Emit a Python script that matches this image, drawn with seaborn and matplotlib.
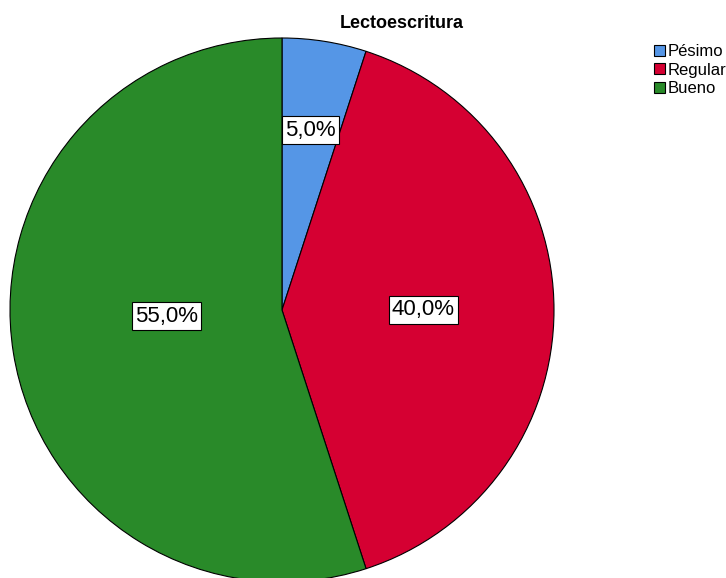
import matplotlib.pyplot as plt
import seaborn as sns
import numpy as np

categories = ["Pésimo", "Regular", "Bueno"]
percentages = [5.0, 40.0, 55.0]
colors = ["#5596E6", "#D50032", "#298A29"]

# label placement (fraction of radius, angular nudge in degrees)
label_dist = [0.67, 0.52, 0.424]
label_shift = [0, 0, -6]

sns.set_style("white")
plt.rcParams["font.family"] = ["Liberation Sans", "DejaVu Sans"]
plt.rcParams["text.color"] = "black"

W, H = 726, 578
fig = plt.figure(figsize=(W / 100, H / 100), dpi=100)
ax = fig.add_axes([0, 0, 1, 1])

cx, cy, r = 282, H - 310, 272
wedges, _ = ax.pie(
    percentages,
    colors=colors,
    startangle=90,
    counterclock=False,
    center=(cx, cy),
    radius=r,
    wedgeprops=dict(edgecolor="black", linewidth=0.8),
    frame=True,
)
ax.set_xlim(0, W)
ax.set_ylim(0, H)
ax.set_aspect("equal")
ax.axis("off")

for w, pct, d, s in zip(wedges, percentages, label_dist, label_shift):
    ang = np.deg2rad((w.theta1 + w.theta2) / 2 + s)
    x = cx + d * r * np.cos(ang)
    y = cy + d * r * np.sin(ang)
    ax.text(x, y, f"{pct:.1f}%".replace(".", ","), ha="center", va="center",
            fontsize=16, color="black",
            bbox=dict(boxstyle="square,pad=0.14", facecolor="white",
                      edgecolor="black", linewidth=0.8))

ax.text(402, H - 24, "Lectoescritura", ha="center", va="center",
        fontsize=13, fontweight="bold", color="black")

ax.legend(wedges, categories, loc="upper left",
          bbox_to_anchor=(654 / W, 1 - 44 / H), bbox_transform=fig.transFigure,
          frameon=False, fontsize=12, borderpad=0, borderaxespad=0,
          handlelength=0.66, handleheight=0.66, handletextpad=0.15,
          labelspacing=0.22, labelcolor="black")

fig.savefig("out.png", dpi=100)
